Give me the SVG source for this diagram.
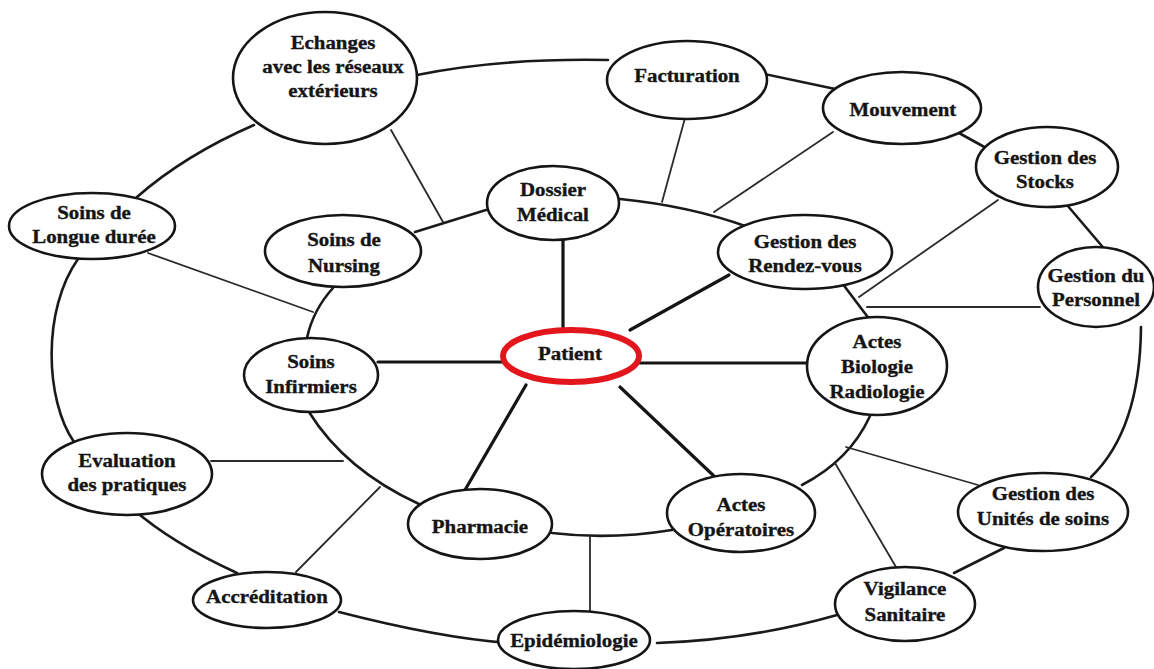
<svg xmlns="http://www.w3.org/2000/svg" width="1154" height="669" viewBox="0 0 1154 669">
  <style>
    .node { fill: #fff; stroke: #151515; stroke-width: 2.6; }
    .hub { fill: #fff; stroke: #e3161d; stroke-width: 6; }
    .ring { fill: none; stroke: #1a1a1a; stroke-width: 2.6; stroke-linecap: round; }
    .link { fill: none; stroke: #2a2a2a; stroke-width: 1.8; stroke-linecap: round; }
    .spoke { fill: none; stroke: #151515; stroke-width: 3.2; stroke-linecap: round; }
    text { font-family: "Liberation Serif", "Times New Roman", serif; font-weight: bold; font-size: 18px; fill: #151515; stroke: #151515; stroke-width: 0.35; text-anchor: middle; transform-box: fill-box; transform-origin: center; transform: scaleX(1.16); }
  </style>
  <rect width="1154" height="669" fill="#fff"/>

  <!-- connectors -->
  <g id="connectors">
    <!-- outer ring -->
    <path class="ring" d="M417,75 Q500,58 608,60"/>
    <path class="ring" d="M755,72 L840,90"/>
    <path class="ring" d="M959,133 L988,149"/>
    <path class="ring" d="M1067,205 L1107,252"/>
    <path class="ring" d="M1141,327 Q1140,430 1091,477"/>
    <path class="ring" d="M1004,548 L954,573"/>
    <path class="ring" d="M837,615 Q750,640 657,643"/>
    <path class="ring" d="M509,643 Q440,638 339,612"/>
    <path class="ring" d="M237,573 Q165,540 124,501"/>
    <path class="ring" d="M74,442 C45,400 42,310 78,259"/>
    <path class="ring" d="M137,197 Q185,155 254,125"/>
    <!-- inner ring -->
    <path class="ring" d="M415,232 L486,210"/>
    <path class="ring" d="M620,199 Q690,206 748,227"/>
    <path class="ring" d="M842,283 L870,320"/>
    <path class="ring" d="M870,416 Q850,460 802,485"/>
    <path class="ring" d="M672,530 Q610,540 552,533"/>
    <path class="ring" d="M419,504 Q345,470 309,412"/>
    <path class="ring" d="M307,338 Q313,310 333,288"/>
    <!-- links between rings -->
    <path class="link" d="M391,130 L443,222"/>
    <path class="link" d="M148,253 L313,312"/>
    <path class="link" d="M685,118 L662,202"/>
    <path class="link" d="M833,132 L714,212"/>
    <path class="link" d="M998,200 L859,297"/>
    <path class="link" d="M1040,307 L867,307"/>
    <path class="link" d="M211,461 L343,461"/>
    <path class="link" d="M296,572 L380,487"/>
    <path class="link" d="M590,537 L590,612"/>
    <path class="link" d="M978,485 L846,447"/>
    <path class="link" d="M896,567 L835,463"/>
    <!-- spokes from the patient -->
    <path class="spoke" d="M563,240 L563,330"/>
    <path class="spoke" d="M630,330 L729,275"/>
    <path class="spoke" d="M640,363 L807,363"/>
    <path class="spoke" d="M620,387 L715,477"/>
    <path class="spoke" d="M526,385 L465,490"/>
    <path class="spoke" d="M378,362 L503,362"/>
  </g>

  <g id="echanges">
    <ellipse class="node" cx="325" cy="78" rx="92" ry="66"/>
    <text x="333" y="49">Echanges</text>
    <text x="333" y="73">avec les réseaux</text>
    <text x="333" y="97">extérieurs</text>
  </g>
  <g id="facturation">
    <ellipse class="node" cx="687" cy="80" rx="80" ry="39"/>
    <text x="687" y="82">Facturation</text>
  </g>
  <g id="mouvement">
    <ellipse class="node" cx="902" cy="108" rx="79" ry="36"/>
    <text x="903" y="116">Mouvement</text>
  </g>
  <g id="stocks">
    <ellipse class="node" cx="1047" cy="167" rx="71" ry="40"/>
    <text x="1045" y="164">Gestion des</text>
    <text x="1045" y="188">Stocks</text>
  </g>
  <g id="personnel">
    <ellipse class="node" cx="1096" cy="287" rx="58" ry="40"/>
    <text x="1096" y="282">Gestion du</text>
    <text x="1096" y="306">Personnel</text>
  </g>
  <g id="longue-duree">
    <ellipse class="node" cx="92" cy="226" rx="83" ry="33"/>
    <text x="94" y="219">Soins de</text>
    <text x="94" y="243">Longue durée</text>
  </g>
  <g id="nursing">
    <ellipse class="node" cx="343" cy="251" rx="78" ry="36"/>
    <text x="344" y="246">Soins de</text>
    <text x="344" y="272">Nursing</text>
  </g>
  <g id="dossier">
    <ellipse class="node" cx="553" cy="203" rx="66" ry="37"/>
    <text x="553" y="196">Dossier</text>
    <text x="553" y="221">Médical</text>
  </g>
  <g id="rendez-vous">
    <ellipse class="node" cx="805" cy="252" rx="87" ry="37"/>
    <text x="805" y="248">Gestion des</text>
    <text x="805" y="272">Rendez-vous</text>
  </g>
  <g id="patient">
    <ellipse class="hub" cx="571" cy="356" rx="68" ry="26"/>
    <text x="570" y="360">Patient</text>
  </g>
  <g id="infirmiers">
    <ellipse class="node" cx="311" cy="375" rx="67" ry="37"/>
    <text x="311" y="368">Soins</text>
    <text x="311" y="393">Infirmiers</text>
  </g>
  <g id="biologie">
    <ellipse class="node" cx="877" cy="366" rx="70" ry="49"/>
    <text x="877" y="348">Actes</text>
    <text x="877" y="373">Biologie</text>
    <text x="877" y="398">Radiologie</text>
  </g>
  <g id="evaluation">
    <ellipse class="node" cx="127" cy="474" rx="85" ry="41"/>
    <text x="127" y="467">Evaluation</text>
    <text x="127" y="491">des pratiques</text>
  </g>
  <g id="pharmacie">
    <ellipse class="node" cx="480" cy="524" rx="72" ry="35"/>
    <text x="480" y="533">Pharmacie</text>
  </g>
  <g id="operatoires">
    <ellipse class="node" cx="741" cy="513" rx="74" ry="39"/>
    <text x="741" y="511">Actes</text>
    <text x="741" y="536">Opératoires</text>
  </g>
  <g id="unites">
    <ellipse class="node" cx="1043" cy="512" rx="85" ry="39"/>
    <text x="1043" y="500">Gestion des</text>
    <text x="1043" y="525">Unités de soins</text>
  </g>
  <g id="accreditation">
    <ellipse class="node" cx="267" cy="600" rx="74" ry="28"/>
    <text x="267" y="603">Accréditation</text>
  </g>
  <g id="epidemiologie">
    <ellipse class="node" cx="574" cy="640" rx="76" ry="29"/>
    <text x="574" y="647">Epidémiologie</text>
  </g>
  <g id="vigilance">
    <ellipse class="node" cx="905" cy="604" rx="70" ry="37"/>
    <text x="905" y="595">Vigilance</text>
    <text x="905" y="621">Sanitaire</text>
  </g>
</svg>
